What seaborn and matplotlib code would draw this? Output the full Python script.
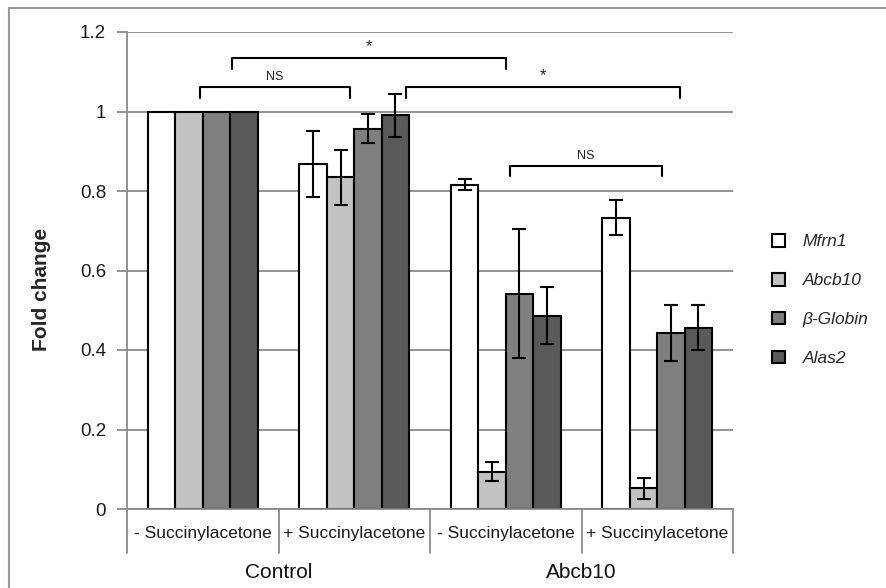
import matplotlib
matplotlib.use("Agg")
import matplotlib.pyplot as plt
from matplotlib.patches import Rectangle
import seaborn as sns
import pandas as pd
import numpy as np

# bar groups (x categories) and what is printed under them
conditions = ["ctrl_minus", "ctrl_plus", "abcb_minus", "abcb_plus"]
tick_labels = ["- Succinylacetone", "+ Succinylacetone",
               "- Succinylacetone", "+ Succinylacetone"]
group_labels = ["Control", "Abcb10"]
genes = ["Mfrn1", "Abcb10", "β-Globin", "Alas2"]

# fold change per gene, one value per condition
mfrn1 = [1.0, 0.868, 0.816, 0.733]
abcb10 = [1.0, 0.834, 0.094, 0.052]
beta_globin = [1.0, 0.957, 0.542, 0.443]
alas2 = [1.0, 0.990, 0.486, 0.456]

# error bar half-lengths (no bar on the control reference)
mfrn1_err = [np.nan, 0.084, 0.014, 0.044]
abcb10_err = [np.nan, 0.070, 0.023, 0.027]
beta_globin_err = [np.nan, 0.037, 0.163, 0.071]
alas2_err = [np.nan, 0.054, 0.072, 0.057]

# significance brackets: (start, end, height, label)
brackets = [
    (0.19, 2.0, 1.135, "*"),
    (-0.02, 0.97, 1.062, "NS"),
    (1.34, 3.15, 1.062, "*"),
    (2.03, 3.03, 0.864, "NS"),
]

colors = ["#ffffff", "#c2c2c2", "#7f7f7f", "#595959"]

values = [mfrn1, abcb10, beta_globin, alas2]
errors = [mfrn1_err, abcb10_err, beta_globin_err, alas2_err]
df = pd.DataFrame({
    "condition": np.tile(conditions, len(genes)),
    "gene": np.repeat(genes, len(conditions)),
    "fold": np.concatenate(values),
})

sns.set_style("white")
plt.rcParams["font.family"] = ["Liberation Sans", "DejaVu Sans"]

fig = plt.figure(figsize=(8.86, 5.88), dpi=100)
ax = fig.add_axes([127 / 886, 1 - 509 / 588, 606 / 886, 477 / 588])

sns.barplot(data=df, x="condition", y="fold", hue="gene", order=conditions,
            hue_order=genes, palette=colors, saturation=1, width=0.726, gap=0,
            edgecolor="black", linewidth=1.5, errorbar=None, ax=ax)

# error bars on top of each bar
for cont, err in zip(ax.containers, errors):
    for bar in cont:
        cx = bar.get_x() + bar.get_width() / 2
        e = err[int(round(cx))]
        if np.isnan(e):
            continue
        ax.errorbar(cx, bar.get_height(), yerr=e, color="black", lw=1.5,
                    capsize=5, capthick=1.5, zorder=5)

ax.set_ylim(0, 1.2)
ax.set_xlim(-0.5, 3.5)
ax.set_yticks(np.arange(0, 1.21, 0.2))
ax.set_yticklabels(["0", "0.2", "0.4", "0.6", "0.8", "1", "1.2"])
ax.set_xticks(range(len(conditions)))
ax.set_xticklabels(tick_labels)
ax.yaxis.grid(True, color="#8a8a8a", lw=1.3)
ax.set_axisbelow(True)
ax.tick_params(axis="y", left=True, length=7, width=1.3, color="#8a8a8a",
               labelsize=13.5, labelcolor="#1a1a1a", pad=8)
ax.tick_params(axis="x", length=0, labelsize=12.5, labelcolor="#1a1a1a", pad=12)
for s in ["top", "right"]:
    ax.spines[s].set_visible(False)
for s in ["left", "bottom"]:
    ax.spines[s].set_color("#8a8a8a")
    ax.spines[s].set_linewidth(1.3)

# separators between the x categories
for xs in np.arange(-0.5, 4, 1):
    ax.plot([xs, xs], [0, -0.111], color="#8a8a8a", lw=1.3, clip_on=False)

for i, g in enumerate(group_labels):
    ax.text(0.5 + 2 * i, -0.16, g, ha="center", va="center", fontsize=15,
            color="#111111", clip_on=False)

ax.set_xlabel("")
ax.set_ylabel("Fold change", fontsize=15, fontweight="bold")
ax.yaxis.set_label_coords(-0.125, 0.46)

for x1, x2, y, lab in brackets:
    ax.plot([x1, x1, x2, x2], [y - 0.027, y, y, y - 0.027], color="black",
            lw=1.5, clip_on=False)
    ax.text((x1 + x2) / 2, y + 0.01, lab, ha="center", va="bottom",
            fontsize=12 if lab == "*" else 9, color="#222222")

handles, labels = ax.get_legend_handles_labels()
ax.legend_.remove()
fig.legend(handles, labels, loc="center left",
           bbox_to_anchor=(772 / 886, 1 - 300 / 588),
           bbox_transform=fig.transFigure, frameon=False, borderpad=0,
           borderaxespad=0, handlelength=0.75, handleheight=0.75,
           handletextpad=1.0, labelspacing=1.35,
           prop={"style": "italic", "size": 12.5})

fig.patches.append(Rectangle((9 / 886, -0.1), 1.2, 1 - 8 / 588 + 0.1,
                             transform=fig.transFigure, fill=False,
                             edgecolor="#999999", lw=1.5))

fig.savefig("out.png", dpi=100)
